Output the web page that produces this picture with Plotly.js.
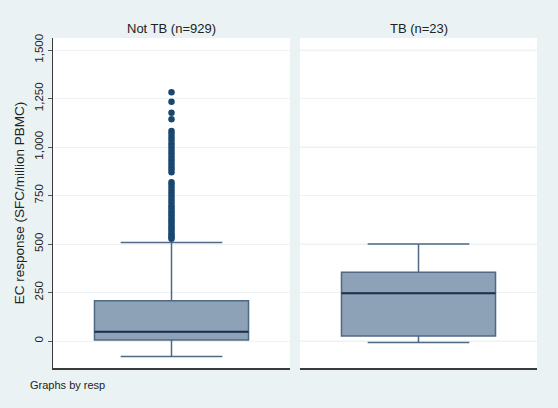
<!DOCTYPE html>
<html>
<head>
<meta charset="utf-8">
<script src="https://cdn.plot.ly/plotly-3.0.1.min.js"></script>
<style>html,body{margin:0;padding:0;background:#eaf2f3;}#chart{width:558px;height:408px;}</style>
</head>
<body>
<div id="chart"></div>
<script>
// Panel labels
const panels = ["Not TB (n=929)", "TB (n=23)"];
// Box summary statistics per panel
const q1 = [5, 26];
const median = [48, 246];
const q3 = [207, 354];
const lowerFence = [-80, -7];
const upperFence = [508, 500];
// Outliers (Not TB panel)
const outliersNotTB = [1283, 1234, 1177, 1143, 1083, 1068, 1052, 1036, 1020, 1005, 990, 975, 960, 945, 930, 915, 900, 885, 870,
  818, 805, 790, 775, 760, 745, 730, 715, 700, 688, 676, 664, 652, 640, 628, 616, 604, 592, 580, 568, 556, 545, 535, 527];
// Y tick values
const yTicks = [0, 250, 500, 750, 1000, 1250, 1500];

const boxFill = "#8da1b7";
const boxLine = "#4f6884";
const medianColor = "#1d2f4d";
const markerColor = "#1a476f";
const boxWidth = 0.65;

const traces = [];
panels.forEach((p, i) => {
  const xa = i === 0 ? "x" : "x2";
  traces.push({
    type: "box", xaxis: xa, yaxis: "y",
    x: [0], q1: [q1[i]], median: [median[i]], q3: [q3[i]],
    lowerfence: [lowerFence[i]], upperfence: [upperFence[i]],
    width: boxWidth, whiskerwidth: 0.66,
    fillcolor: boxFill, line: {color: boxLine, width: 1.5},
    boxpoints: false, showlegend: false, hoverinfo: "skip"
  });
  traces.push({
    type: "scatter", mode: "lines", xaxis: xa, yaxis: "y",
    x: [-boxWidth / 2, boxWidth / 2], y: [median[i], median[i]],
    line: {color: medianColor, width: 2}, showlegend: false, hoverinfo: "skip"
  });
});
traces.push({
  type: "scatter", mode: "markers", xaxis: "x", yaxis: "y",
  x: outliersNotTB.map(() => 0), y: outliersNotTB,
  marker: {color: markerColor, size: 6.5}, showlegend: false, hoverinfo: "skip"
});

const font = {family: "Liberation Sans, Arial, sans-serif", color: "#222"};
const xBase = {
  range: [-0.5, 0.5], showticklabels: false, ticks: "", showgrid: false, zeroline: false,
  showline: true, linecolor: "#3a3a3a", linewidth: 1.5, anchor: "y", fixedrange: true
};
const layout = {
  width: 558, height: 408,
  margin: {l: 0, r: 0, t: 0, b: 0},
  paper_bgcolor: "#eaf2f3", plot_bgcolor: "#ffffff",
  font: font,
  showlegend: false,
  xaxis: Object.assign({}, xBase, {domain: [53 / 558, 290 / 558]}),
  xaxis2: Object.assign({}, xBase, {domain: [300 / 558, 537 / 558]}),
  yaxis: {
    domain: [1 - 368 / 408, 1 - 38 / 408], range: [-139, 1562],
    tickvals: yTicks, tickformat: ",d", tickangle: -90,
    ticks: "outside", ticklen: 4, tickcolor: "#555", tickfont: {size: 11.5, color: "#222"},
    showline: true, linecolor: "#3a3a3a", linewidth: 1.5, mirror: false,
    showgrid: true, gridcolor: "#edf2f4", gridwidth: 1, zeroline: false,
    title: {text: "EC response (SFC/million PBMC)", font: {size: 13.5, color: "#222"}, standoff: 5},
    automargin: false
  },
  shapes: [],
  annotations: [
    {text: panels[0], xref: "paper", yref: "paper", x: (53 + 290) / 2 / 558, y: 1 - 29 / 408,
     showarrow: false, font: {size: 13, color: "#222"}, xanchor: "center", yanchor: "middle"},
    {text: panels[1], xref: "paper", yref: "paper", x: (300 + 537) / 2 / 558, y: 1 - 29 / 408,
     showarrow: false, font: {size: 13, color: "#222"}, xanchor: "center", yanchor: "middle"},
    {text: "Graphs by resp", xref: "paper", yref: "paper", x: 28 / 558, y: 1 - 385 / 408,
     showarrow: false, font: {size: 11, color: "#222"}, xanchor: "left", yanchor: "middle"}
  ]
};
// grid lines across right panel too
layout.shapes = yTicks.map(v => ({
  type: "line", xref: "x2 domain", yref: "y", x0: 0, x1: 1, y0: v, y1: v,
  line: {color: "#edf2f4", width: 1}, layer: "below"
}));

Plotly.newPlot("chart", traces, layout, {displayModeBar: false, staticPlot: true});
</script>
</body>
</html>
